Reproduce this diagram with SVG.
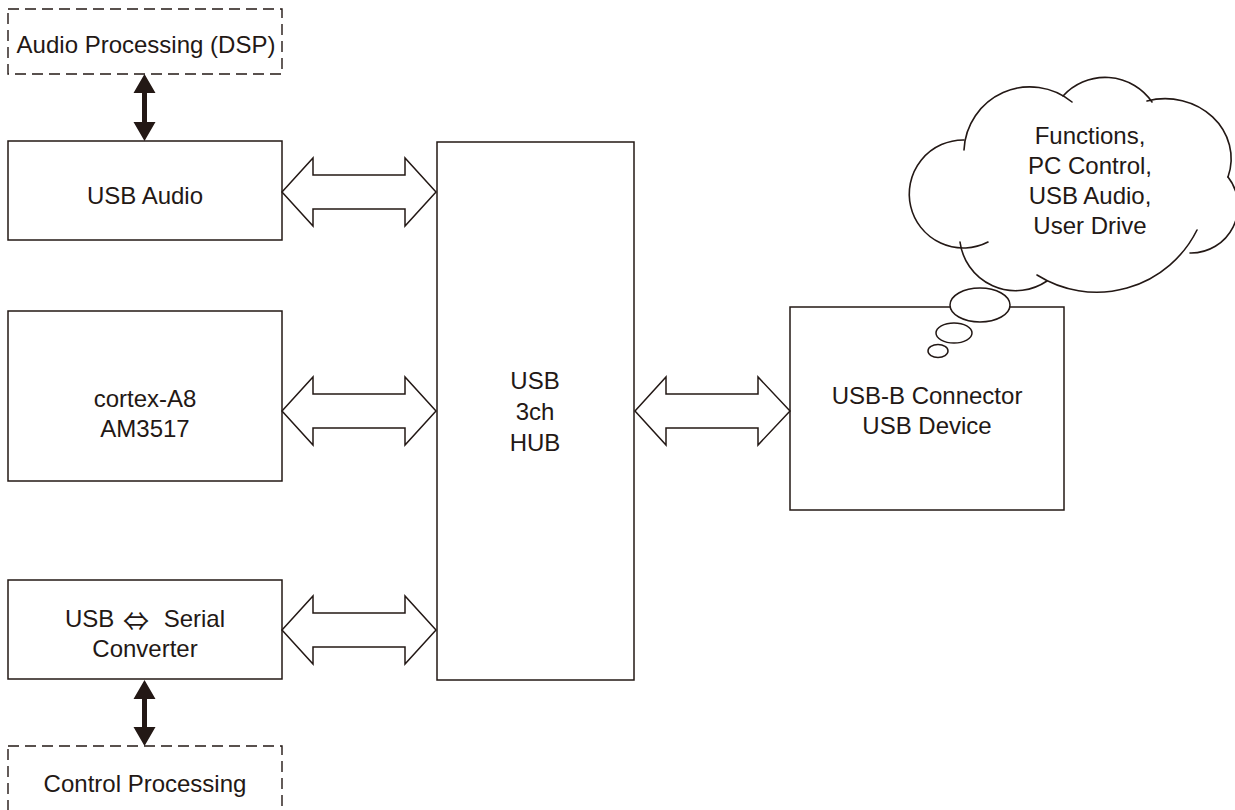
<svg xmlns="http://www.w3.org/2000/svg" width="1235" height="810" viewBox="0 0 1235 810">
<style>
.box{fill:#fff;stroke:#231815;stroke-width:1.5}
.dash{fill:#fff;stroke:#231815;stroke-width:1.4;stroke-dasharray:11 6}
.t{font-family:"Liberation Sans","Noto Sans CJK JP",sans-serif;font-size:24px;fill:#231815;text-anchor:middle}
.cjk{font-family:"Noto Sans CJK JP",sans-serif;font-size:26px}
.dbl{fill:#fff;stroke:#231815;stroke-width:1.5;stroke-linejoin:miter}
.blk{fill:#231815;stroke:none}
.cl{fill:none;stroke:#231815;stroke-width:1.6;stroke-linecap:round}
.bub{fill:#fff;stroke:#231815;stroke-width:1.5}
</style>
<rect width="1235" height="810" fill="#fff"/>

<g id="audio-processing">
<rect class="dash" x="8" y="9" width="274" height="65"/>
<text class="t" x="146" y="53">Audio Processing (DSP)</text>
</g>

<g id="usb-audio">
<rect class="box" x="8" y="141" width="274" height="99"/>
<text class="t" x="145" y="204">USB Audio</text>
</g>

<g id="cortex">
<rect class="box" x="8" y="311" width="274" height="170"/>
<text class="t" x="145" y="407">cortex-A8</text>
<text class="t" x="145" y="437">AM3517</text>
</g>

<g id="usb-serial">
<rect class="box" x="8" y="580" width="274" height="99"/>
<text class="t" x="145" y="627">USB <tspan class="cjk" dx="2" dy="4">⇔</tspan><tspan dx="8" dy="-4"> Serial</tspan></text>
<text class="t" x="145" y="657">Converter</text>
</g>

<g id="control-processing">
<rect class="dash" x="8" y="746" width="274" height="90"/>
<text class="t" x="145" y="792">Control Processing</text>
</g>

<g id="hub">
<rect class="box" x="437" y="142" width="197" height="538"/>
<text class="t" x="535" y="389">USB</text>
<text class="t" x="535" y="420">3ch</text>
<text class="t" x="535" y="451">HUB</text>
</g>

<g id="usb-b">
<rect class="box" x="790" y="307" width="274" height="203"/>
<text class="t" x="927" y="404">USB-B Connector</text>
<text class="t" x="927" y="434">USB Device</text>
</g>

<g id="cloud">
<path class="cl" d="M964,140 A54,54 0 1 0 988,242"/>
<path class="cl" d="M964,150 A66,66 0 0 1 1072,102"/>
<path class="cl" d="M1063,96 A57,57 0 0 1 1152,102"/>
<path class="cl" d="M1147,101 A66,60 0 0 1 1228,177"/>
<path class="cl" d="M1228,177 A47,47 0 0 1 1190,253"/>
<path class="cl" d="M1197,230 A112,112 0 0 1 1037,275"/>
<path class="cl" d="M960,242 A56,56 0 0 0 1047,281"/>
<text class="t" x="1090" y="144">Functions,</text>
<text class="t" x="1090" y="174">PC Control,</text>
<text class="t" x="1090" y="204">USB Audio,</text>
<text class="t" x="1090" y="234">User Drive</text>
<ellipse class="bub" cx="980" cy="305" rx="30" ry="17"/>
<ellipse class="bub" cx="954" cy="333" rx="18" ry="10"/>
<ellipse class="bub" cx="938" cy="351" rx="10" ry="6.5"/>
</g>

<g id="connectors">
<polygon class="dbl" points="282,192 313,158 313,175 405,175 405,158 436,192 405,226 405,209 313,209 313,226"/>
<polygon class="dbl" points="282,411 313,377 313,394 405,394 405,377 436,411 405,445 405,428 313,428 313,445"/>
<polygon class="dbl" points="282,630 313,596 313,613 405,613 405,596 436,630 405,664 405,647 313,647 313,664"/>
<polygon class="dbl" points="635,411 666,377 666,394 758,394 758,377 790,411 758,445 758,428 666,428 666,445"/>
<polygon class="blk" points="144.5,74 155.5,93 147,93 147,122 155.5,122 144.5,141 133.5,122 142,122 142,93 133.5,93"/>
<polygon class="blk" points="144.5,680 155.5,699 147,699 147,727 155.5,727 144.5,746 133.5,727 142,727 142,699 133.5,699"/>
</g>
</svg>
